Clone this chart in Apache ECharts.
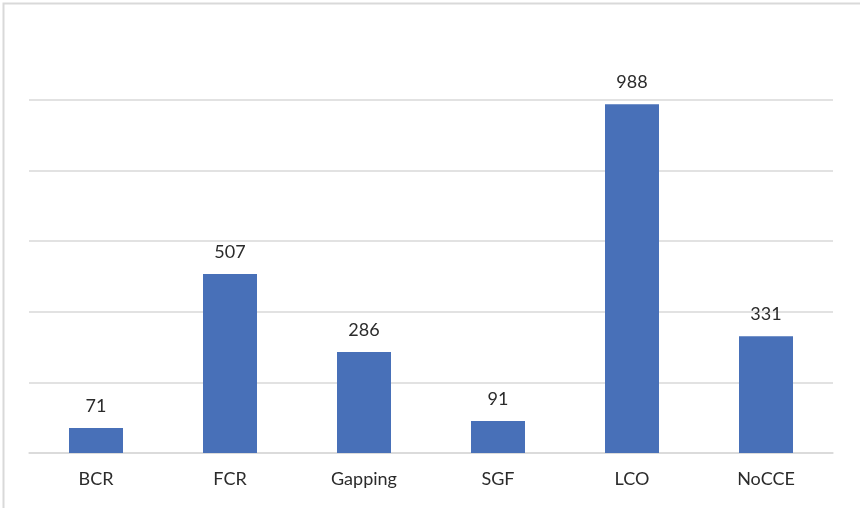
<!DOCTYPE html>
<html>
<head>
<meta charset="utf-8">
<script src="https://cdn.jsdelivr.net/npm/echarts@6/dist/echarts.min.js"></script>
<style>
  html, body { margin: 0; padding: 0; background: #fff; }
  #chart { width: 860px; height: 508px; }
</style>
</head>
<body>
<div id="chart"></div>
<script>
// Counts per category
const categories = ['BCR', 'FCR', 'Gapping', 'SGF', 'LCO', 'NoCCE'];
const counts = [71, 507, 286, 91, 988, 331];

const chart = echarts.init(document.getElementById('chart'), null, { renderer: 'canvas' });

chart.setOption({
  animation: false,
  backgroundColor: '#ffffff',
  textStyle: { fontFamily: 'Lato' },
  graphic: [{
    type: 'rect',
    shape: { x: 3.5, y: 3.5, width: 870, height: 520 },
    style: { fill: 'none', stroke: '#d9d9d9', lineWidth: 2 },
    silent: true
  }],
  grid: { left: 29, right: 27, top: 100, bottom: 55, containLabel: false },
  xAxis: {
    type: 'category',
    data: categories,
    axisLine: { show: true, lineStyle: { color: '#d9d9d9', width: 1.5 } },
    axisTick: { show: false },
    axisLabel: { color: '#2b2b2b', fontSize: 18, fontFamily: 'Lato', margin: 17 }
  },
  yAxis: {
    type: 'value',
    min: 0,
    max: 1000,
    interval: 200,
    axisLine: { show: false },
    axisTick: { show: false },
    axisLabel: { show: false },
    splitLine: { lineStyle: { color: '#d9d9d9', width: 1.5 } }
  },
  series: [{
    type: 'bar',
    data: counts,
    barWidth: 54,
    itemStyle: { color: '#4870B8' },
    label: {
      show: true,
      position: 'top',
      distance: 13,
      color: '#2b2b2b',
      fontSize: 18,
      fontFamily: 'Lato'
    }
  }]
});
</script>
</body>
</html>
